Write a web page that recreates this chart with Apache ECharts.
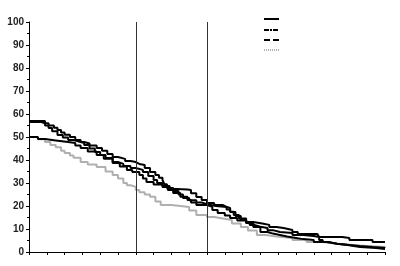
<!DOCTYPE html>
<html><head><meta charset="utf-8">
<script src="https://cdn.jsdelivr.net/npm/echarts@6/dist/echarts.min.js"></script>
<style>html,body{margin:0;padding:0;background:#fff}#c{width:400px;height:266px}</style>
</head><body><div id="c"></div>
<script>
const yTicks = [0,10,20,30,40,50,60,70,80,90,100];
const refLines = [6, 10];
const seriesA = [[0,57],[0.9,56],[1.1,55],[1.4,54],[1.6,53],[1.8,52],[2.0,51],[2.3,50],[2.6,48.7],[2.9,47.8],[3.1,47.2],[3.4,46.3],[3.8,45.2],[4.1,44],[4.4,42.6],[4.7,41.3],[5.0,40.5],[5.4,39.6],[5.7,39.1],[6.0,38.3],[6.2,37.8],[6.5,36.5],[6.8,34.8],[7.1,33.5],[7.3,32.3],[7.5,31.3],[7.6,29.5],[7.75,27.8],[8.1,26.5],[8.4,25],[8.65,23.5],[9.0,22.5],[9.4,21.5],[9.7,20.8],[10,20],[10.5,19.6],[11.1,19.1],[11.3,17.5],[11.5,16.1],[11.8,14.6],[12.2,13],[12.6,12.4],[13.1,11.8],[13.5,10.9],[13.9,10.4],[14.3,9.6],[14.8,8.7],[15.1,7.8],[16.2,7.4],[16.3,6.5],[17.6,6.1],[18,5.2],[19.3,4.3],[20,4.3]];
const seriesB = [[0,56.5],[0.7,56],[0.9,55],[1.1,53.9],[1.3,52.5],[1.6,50.9],[1.9,49.8],[2.2,48.7],[2.5,48],[2.8,47.4],[3.1,46.5],[3.4,45],[3.7,43.5],[4.0,42.2],[4.3,40.9],[4.7,39.1],[5.0,38.3],[5.3,37.4],[5.7,36.5],[6.0,35.7],[6.4,34.8],[6.7,33],[7.0,31.3],[7.2,30],[7.5,28.7],[7.9,27.4],[8.3,27.2],[8.9,27],[9.1,25.5],[9.4,23.9],[9.7,22.6],[10,21.3],[10.4,20.4],[10.9,19.6],[11.1,18.5],[11.3,17.4],[11.6,15.6],[11.9,13.9],[12.2,12.6],[12.4,11.7],[12.7,11],[13,10.4],[13.4,9.5],[13.7,8.7],[14.1,8.3],[14.8,7.4],[15.4,7],[16,6.5],[16.3,5.2],[16.5,4.3],[16.9,3.6],[17.3,3],[18,2.6],[18.6,2.2],[19.3,1.9],[19.9,1.7],[20,1.7]];
const seriesC = [[0,50],[0.5,49.1],[0.9,48.5],[1.5,47.8],[2.2,47.4],[2.6,46.3],[2.9,45.2],[3.3,43.7],[3.8,42.2],[4.2,40.5],[4.7,38.7],[5.1,37.2],[5.5,35.7],[5.8,34.8],[6.2,33.5],[6.4,32],[6.6,30.4],[7.0,29.3],[7.5,28.3],[7.8,27],[8.1,25.6],[8.5,24],[8.9,22.6],[9.1,21.5],[9.4,20.4],[10,19.6],[10.3,18.3],[10.6,17],[11,15.9],[11.3,14.8],[11.7,13.7],[12.2,12.6],[12.6,10.9],[13,8.7],[13.4,8],[13.7,7.4],[14.1,6.7],[14.5,6.1],[15,5.6],[15.4,5.2],[16,4.3],[16.7,3.6],[17.3,3],[17.9,2.2],[18.6,1.7],[19.5,1.3],[20,1.3]];
const seriesD = [[0,50],[0.5,49],[0.9,47.8],[1.2,46.5],[1.5,45.5],[1.8,44],[2,43],[2.3,42],[2.5,41],[2.9,39.1],[3.3,38],[3.8,37],[4.3,35],[4.7,33.5],[5.0,32],[5.3,30],[5.5,29],[5.7,28.3],[6.0,27],[6.2,26],[6.5,25],[6.8,24],[7.1,22],[7.4,20.4],[8.0,20],[8.5,19.6],[9.0,18],[9.4,16.1],[10,15.2],[10.4,14.6],[10.9,13.9],[11.4,12.4],[11.9,10.9],[12.3,9.3],[12.8,7.4],[13.3,6.7],[13.9,6.1],[14.8,5.2],[15.6,4.3],[16.5,3.5],[17.5,2.8],[18.5,2.2],[20,1.7]];

const chart = echarts.init(document.getElementById('c'), null, {renderer:'canvas'});
function mk(name, data, color, extra) {
  return Object.assign({
    name, type:'line', data, step:'end', symbol:'none', animation:false,
    lineStyle:{color, width:2}, z:3
  }, extra||{});
}
chart.setOption({
  animation:false,
  grid:{left:29, right:15, top:22, bottom:14},
  xAxis:{type:'value', min:0, max:20, interval:1,
    axisLine:{lineStyle:{color:'#000', width:1}},
    axisTick:{show:true, length:3, lineStyle:{color:'#000'}},
    axisLabel:{show:false}, splitLine:{show:false}},
  yAxis:{type:'value', min:0, max:100, interval:10,
    axisLine:{show:true, lineStyle:{color:'#000', width:1}},
    axisTick:{show:true, length:3, lineStyle:{color:'#000'}},
    minorTick:{show:true, splitNumber:2, length:2, lineStyle:{color:'#000'}},
    axisLabel:{formatter:v=>yTicks.includes(v)?String(v):'', fontFamily:'Liberation Sans, Arial', fontWeight:'bold', fontSize:10, color:'#222', margin:5},
    splitLine:{show:false}},
  series:[
    mk('D', seriesD, '#b0b0b0', {z:2, markLine:{silent:true, symbol:'none', label:{show:false},
      lineStyle:{color:'#333', width:1, type:'solid'}, data: refLines.map(v=>({xAxis:v}))}}),
    mk('C', seriesC, '#000'),
    mk('B', seriesB, '#000'),
    mk('A', seriesA, '#000')
  ],
  graphic:[
    {type:'line', shape:{x1:264,y1:19,x2:279,y2:19}, style:{stroke:'#000', lineWidth:2}},
    {type:'line', shape:{x1:264,y1:30,x2:279,y2:30}, style:{stroke:'#000', lineWidth:2, lineDash:[5,1,2,1]}},
    {type:'line', shape:{x1:264,y1:40,x2:279,y2:40}, style:{stroke:'#000', lineWidth:2, lineDash:[6,3]}},
    {type:'line', shape:{x1:264,y1:50,x2:279,y2:50}, style:{stroke:'#999', lineWidth:1.5, lineDash:[1,1]}}
  ]
});
</script></body></html>
